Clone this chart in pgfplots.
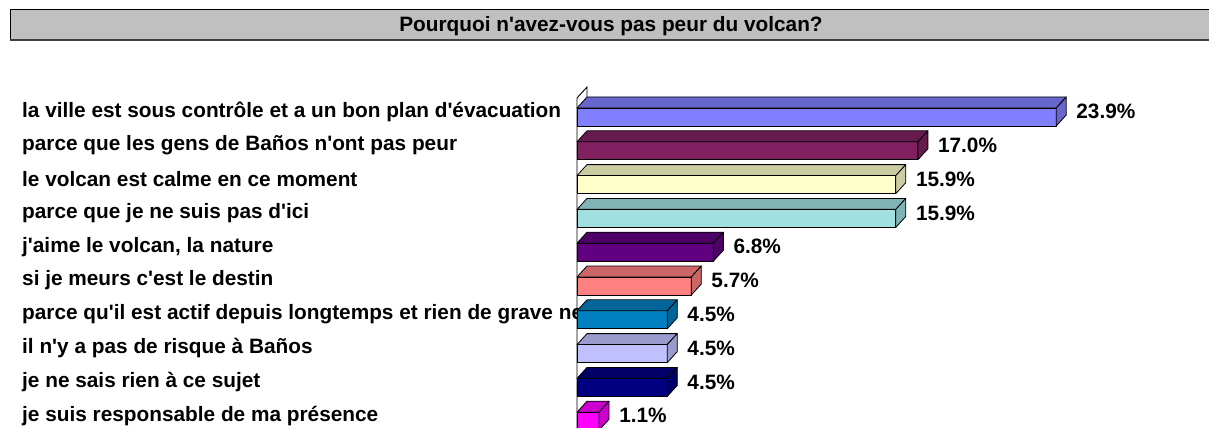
\documentclass[border=0pt]{standalone}
\usepackage{pgfplots}
\pgfplotsset{compat=1.18}
\usepackage{fontspec}
\setmainfont{Liberation Sans}[Ligatures=TeXOff]
\definecolor{titlegray}{HTML}{C0C0C0}
\definecolor{cA}{HTML}{8080FF}
\definecolor{cB}{HTML}{802060}
\definecolor{cC}{HTML}{FFFFCC}
\definecolor{cD}{HTML}{A0E0E0}
\definecolor{cE}{HTML}{600080}
\definecolor{cF}{HTML}{FF8080}
\definecolor{cG}{HTML}{0080C0}
\definecolor{cH}{HTML}{C0C0FF}
\definecolor{cI}{HTML}{000080}
\definecolor{cJ}{HTML}{FF00FF}
\newcommand\lab{\bfseries\fontsize{20.8bp}{24bp}\selectfont}
% #1 category index, #2 value (%), #3 colour
\newcommand\tdbar[3]{%
  \pgfmathsetmacro\ya{#1-0.104}%
  \pgfmathsetmacro\yb{#1+0.429}%
  \pgfmathsetmacro\yc{#1-0.429}%
  \pgfmathsetmacro\yd{#1+0.104}%
  \pgfmathsetmacro\xe{#2+0.5}%
  \addplot[fill=#3, draw=black, line width=0.8bp, line join=round] coordinates {(0,\ya) (#2,\ya) (#2,\yb) (0,\yb)} -- cycle;
  \addplot[fill=#3!80!black, draw=black, line width=0.8bp, line join=round] coordinates {(0,\ya) (#2,\ya) (\xe,\yc) (0.5,\yc)} -- cycle;
  \addplot[fill=#3!80!black, draw=black, line width=0.8bp, line join=round] coordinates {(#2,\ya) (\xe,\yc) (\xe,\yd) (#2,\yb)} -- cycle;
  \node[anchor=west, font=\lab, inner sep=0pt, xshift=20bp] at (axis cs:#2,#1) {#2\%};
}
\begin{document}
\begin{tikzpicture}[x=1bp,y=1bp]
% title band
\fill[titlegray] (10,387) rectangle (1212,417);
\draw[black, line width=1bp] (10,387) -- (10,417) -- (1212,417);
\draw[black!75, line width=2bp] (10,387) -- (1212,387);
\node[font=\lab] at (611,401) {Pourquoi n'avez-vous pas peur du volcan?};
\begin{axis}[
  set layers,
  at={(577bp,-8.98bp)}, anchor=south west,
  scale only axis, width=601.5bp, height=358.28bp,
  xmin=0, xmax=30, ymin=-1, ymax=9.6, y dir=reverse,
  clip=false,
  axis line style={draw=none},
  xtick=\empty,
  ytick={0,1,2,3,4,5,6,7,8,9},
  yticklabels={
    la ville est sous contrôle et a un bon plan d'évacuation,
    parce que les gens de Baños n'ont pas peur,
    le volcan est calme en ce moment,
    parce que je ne suis pas d'ici,
    {j'aime le volcan, la nature},
    si je meurs c'est le destin,
    parce qu'il est actif depuis longtemps et rien de grave ne,
    il n'y a pas de risque à Baños,
    je ne sais rien à ce sujet,
    je suis responsable de ma présence},
  major tick length=0pt,
  yticklabel style={anchor=west, xshift=-555bp, inner sep=0pt, font=\lab},
]
\draw[black, line width=0.9bp] (axis cs:0,9.8) -- (axis cs:0,-0.40) -- (axis cs:0.5,-0.725) -- (axis cs:0.5,-0.43);
\tdbar{0}{23.9}{cA}
\tdbar{1}{17.0}{cB}
\tdbar{2}{15.9}{cC}
\tdbar{3}{15.9}{cD}
\tdbar{4}{6.8}{cE}
\tdbar{5}{5.7}{cF}
\tdbar{6}{4.5}{cG}
\tdbar{7}{4.5}{cH}
\tdbar{8}{4.5}{cI}
\tdbar{9}{1.1}{cJ}
\end{axis}
\pgfresetboundingbox
\useasboundingbox (0,0) rectangle (1209,427);
\end{tikzpicture}
\end{document}
